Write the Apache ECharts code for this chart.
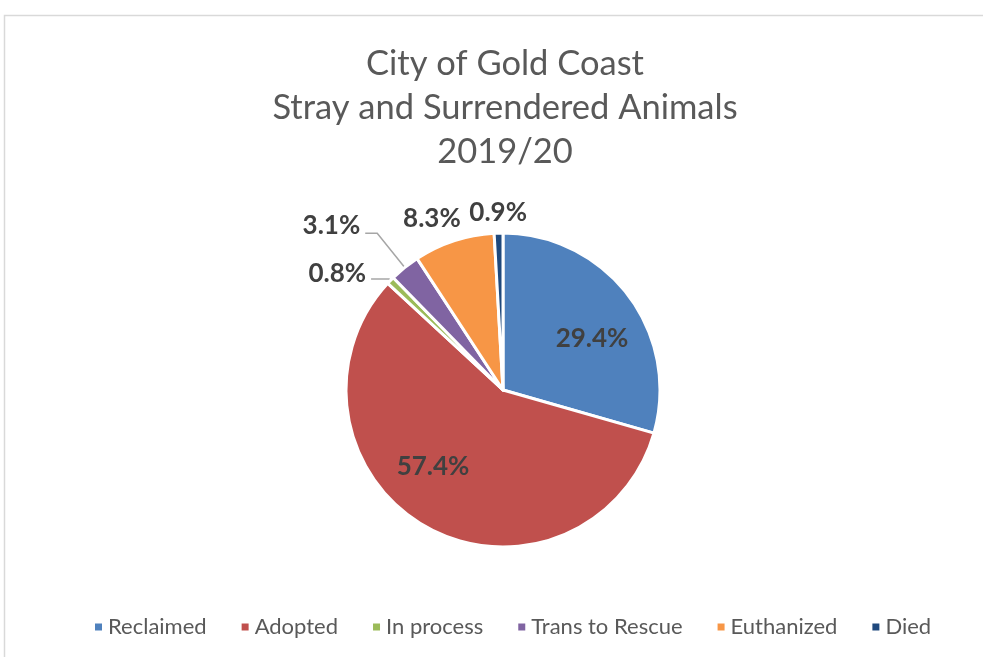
<!DOCTYPE html>
<html><head><meta charset="utf-8">
<script src="https://cdn.jsdelivr.net/npm/echarts@6/dist/echarts.min.js"></script>
<style>html,body{margin:0;padding:0;background:#fff}#c{width:983px;height:657px}</style>
</head><body><div id="c"></div>
<script>
const categories = ['Reclaimed','Adopted','In process','Trans to Rescue','Euthanized','Died'];
const values = [29.4, 57.4, 0.8, 3.1, 8.3, 0.9];
const colors = ['#4F81BD','#C0504D','#9BBB59','#8064A2','#F79646','#1F497D'];
const titleLines = ['City of Gold Coast','Stray and Surrendered Animals','2019/20'];

const insideIdx = [0,1];
const lineIdx = [2,3];
const chart = echarts.init(document.getElementById('c'));
const font = 'Lato, "Open Sans", sans-serif';
chart.setOption({
  animation:false,
  backgroundColor:'#fff',
  graphic:[{type:'rect',shape:{x:4.5,y:15.5,width:1000,height:700},style:{fill:'none',stroke:'#d9d9d9',lineWidth:1.5},silent:true,z:-1}],
  title:{text:titleLines.join('\n'),left:500,textAlign:'center',top:37,textStyle:{fontFamily:font,fontWeight:'normal',fontSize:34.5,color:'#595959',lineHeight:44}},
  legend:{bottom:14,left:88,itemWidth:9,itemHeight:9,icon:'rect',itemGap:33,textStyle:{fontFamily:font,fontSize:22,color:'#595959'}},
  series:[{
    type:'pie',
    center:[503,390],
    radius:[0,157],
    startAngle:90,
    clockwise:true,
    avoidLabelOverlap:false,
    itemStyle:{borderColor:'#fff',borderWidth:3},
    label:{fontFamily:font,fontWeight:'bold',fontSize:26,color:'#404040',formatter:p=>p.value.toFixed(1)+'%'},
    labelLine:{lineStyle:{color:'#a6a6a6',width:1.5},length:20,length2:8},
    labelLayout:function(p){
      const d={0:[24,-2],1:[-30,6],2:[0,-5],3:[0,-8],4:[26,-3],5:[42,0]}[p.dataIndex];
      if(d) return {dx:d[0],dy:d[1]};
      return {};
    },
    data: categories.map((c,i)=>({
      name:c,value:values[i],
      itemStyle:{color:colors[i]},
      label:{position: insideIdx.includes(i)?'inside':'outside'},
      labelLine: lineIdx.includes(i) ? (i===3?{show:true,length:44,length2:12}:{show:true,length:2,length2:18}) : {show:false}
    }))
  }]
});
</script></body></html>
